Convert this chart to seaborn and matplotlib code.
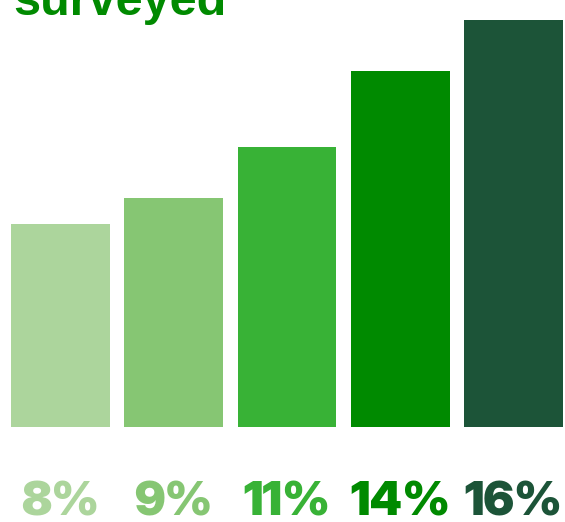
import matplotlib
matplotlib.use("Agg")
import matplotlib.pyplot as plt
import seaborn as sns
import pandas as pd

categories = ["A", "B", "C", "D", "E"]
values = [8, 9, 11, 14, 16]
labels = ["8%", "9%", "11%", "14%", "16%"]
colors = ["#acd59c", "#86c673", "#38b236", "#008a00", "#1c5438"]
title = "surveyed"

sns.set_theme(style="white")
plt.rcParams["font.family"] = ["Liberation Sans", "DejaVu Sans"]

W, H = 565, 522
fig = plt.figure(figsize=(W / 100, H / 100), dpi=100)
fig.patch.set_facecolor("white")

ax_left, ax_right = 11, 563
ax_bottom, ax_top = 427, 20
ax = fig.add_axes([ax_left / W, (H - ax_bottom) / H, (ax_right - ax_left) / W, (ax_bottom - ax_top) / H])

df = pd.DataFrame({"cat": categories, "val": values})
width = 0.874
sns.barplot(data=df, x="cat", y="val", hue="cat", palette=colors, width=width,
            legend=False, ax=ax, saturation=1, linewidth=0)
ax.set_xlim(-width / 2, len(values) - 1 + width / 2)
ax.set_ylim(0, max(values))
ax.axis("off")

for i, (lab, col) in enumerate(zip(labels, colors)):
    xf = (ax_left + (i + width / 2) / (len(values) - 1 + width) * (ax_right - ax_left)) / W
    fig.text(xf, 6 / H, lab, ha="center", va="baseline", fontsize=34,
             fontweight=900, color=col, family=["Inter Display", "Inter", "DejaVu Sans"])

fig.text(13 / W, 1 - 15 / H, title, ha="left", va="baseline", fontsize=35,
         fontweight="bold", color="#008a00")

fig.savefig("out.png", dpi=100, facecolor="white")
